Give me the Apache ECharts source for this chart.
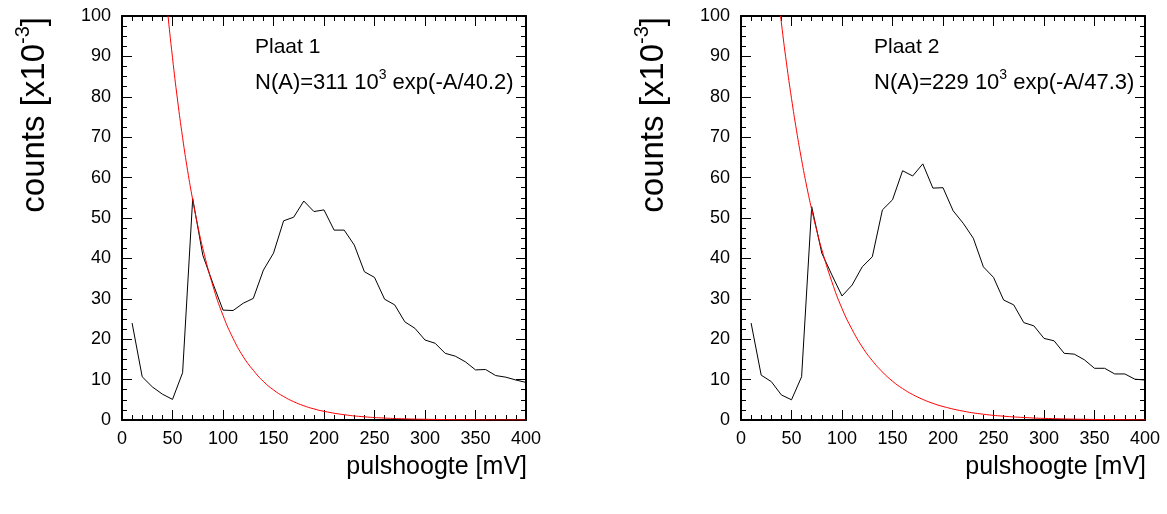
<!DOCTYPE html>
<html>
<head>
<meta charset="utf-8">
<script src="https://cdn.jsdelivr.net/npm/echarts@6/dist/echarts.min.js"></script>
<style>
html,body{margin:0;padding:0;background:#fff;}
#c{width:1167px;height:514px;}
</style>
</head>
<body>
<div id="c"></div>
<script>
// ---- data ----
const xTicks = [0, 50, 100, 150, 200, 250, 300, 350, 400];
const yTicks = [0, 10, 20, 30, 40, 50, 60, 70, 80, 90, 100];

const binX = [10,20,30,40,50,60,70,80,90,100,110,120,130,140,150,160,170,180,190,200,
              210,220,230,240,250,260,270,280,290,300,310,320,330,340,350,360,370,380,390,400];

const plaat1Counts = [24,10.7,8.2,6.4,5.1,11.7,54.8,40.8,33.8,27.2,27.1,28.9,30.1,37.1,41.3,49.3,50.2,54.2,51.6,52.0,
                      47.0,47.0,43.3,36.7,35.3,29.9,28.5,24.3,22.7,19.8,19.0,16.5,15.8,14.4,12.4,12.5,11.0,10.6,9.9,9.3];
const plaat2Counts = [24,11.1,9.5,6.2,5.0,10.7,52.8,41.3,35.9,30.7,33.4,37.9,40.4,52.0,54.5,61.7,60.4,63.4,57.4,57.5,
                      51.8,48.7,45.0,37.9,35.3,29.7,28.5,24.1,23.3,20.2,19.6,16.5,16.3,14.9,12.8,12.8,11.4,11.4,10.1,9.9];

const fit1X = [40,45,50,55,60,65,70,75,80,90,100,110,120,130,140,150,160,170,180,190,200,220,240,260,280,300,350,400];
const fit1Y = [115.0,101.5,89.7,79.2,69.9,61.7,54.5,48.1,42.5,33.2,25.9,20.2,15.7,12.3,9.55,7.45,5.81,4.53,3.53,2.75,2.15,1.31,0.79,0.48,0.29,0.18,0.05,0.02];
const fit2X = [30,35,40,45,50,55,60,65,70,75,80,90,100,110,120,130,140,150,160,170,180,190,200,220,240,260,280,300,350,400];
const fit2Y = [121.5,109.3,98.3,88.4,79.6,71.6,64.4,57.9,52.1,46.9,42.2,34.2,27.6,22.4,18.1,14.7,11.9,9.6,7.78,6.30,5.10,4.12,3.34,2.19,1.43,0.94,0.62,0.40,0.14,0.05];

const titles = ['Plaat 1', 'Plaat 2'];
const fitLabels = [
  ['N(A)=311 10', '3', ' exp(-A/40.2)'],
  ['N(A)=229 10', '3', ' exp(-A/47.3)']
];
const xName = 'pulshoogte [mV]';
const yName = ['counts [x10', '-3', ']'];

// ---- chart ----
const FONT = '"Liberation Sans", Arial, Helvetica, sans-serif';
const pairs = (xs, ys) => xs.map((x, i) => [x, ys[i]]);

const grids = [
  {left: 122, top: 16, width: 404, height: 404},
  {left: 741, top: 16, width: 404, height: 404}
];

function xAxisDef(gi, pos, showLabel) {
  return {
    type: 'value', gridIndex: gi, position: pos,
    min: xTicks[0], max: xTicks[xTicks.length - 1], interval: xTicks[1] - xTicks[0],
    axisLine: {show: true, onZero: false, lineStyle: {color: '#000', width: 2}},
    axisTick: {show: true, inside: true, length: 10, lineStyle: {color: '#000', width: 1}},
    minorTick: {show: true, splitNumber: 5, length: 5, lineStyle: {color: '#000', width: 1}},
    axisLabel: {show: showLabel, color: '#000', fontSize: 18, fontFamily: FONT, margin: 10},
    splitLine: {show: false}
  };
}
function yAxisDef(gi, pos, showLabel) {
  return {
    type: 'value', gridIndex: gi, position: pos,
    min: yTicks[0], max: yTicks[yTicks.length - 1], interval: yTicks[1] - yTicks[0],
    axisLine: {show: true, onZero: false, lineStyle: {color: '#000', width: 2}},
    axisTick: {show: true, inside: true, length: 10, lineStyle: {color: '#000', width: 1}},
    minorTick: {show: true, splitNumber: 4, length: 5, lineStyle: {color: '#000', width: 1}},
    axisLabel: {show: showLabel, color: '#000', fontSize: 18, fontFamily: FONT, margin: 11},
    splitLine: {show: false}
  };
}

const xAxes = [], yAxes = [];
for (let g = 0; g < 2; g++) {
  xAxes.push(xAxisDef(g, 'bottom', true));
  xAxes.push(xAxisDef(g, 'top', false));
  yAxes.push(yAxisDef(g, 'left', true));
  yAxes.push(yAxisDef(g, 'right', false));
}

const counts = [plaat1Counts, plaat2Counts];
const fits = [[fit1X, fit1Y], [fit2X, fit2Y]];
const series = [];
for (let g = 0; g < 2; g++) {
  series.push({
    type: 'line', xAxisIndex: g * 2, yAxisIndex: g * 2,
    data: pairs(binX, counts[g]), symbol: 'none', clip: true,
    lineStyle: {color: '#000', width: 1}, z: 3, animation: false
  });
  series.push({
    type: 'line', xAxisIndex: g * 2, yAxisIndex: g * 2,
    data: pairs(fits[g][0], fits[g][1]), symbol: 'none', clip: true, smooth: true,
    lineStyle: {color: '#ff0000', width: 1}, z: 4, animation: false
  });
}

const graphic = [];
for (let g = 0; g < 2; g++) {
  const gr = grids[g];
  // annotation
  graphic.push({
    type: 'text', left: gr.left + 133, top: 37,
    style: {text: titles[g], fill: '#000', font: '21px ' + FONT}
  });
  graphic.push({
    type: 'text', left: gr.left + 133, top: 68,
    style: {
      text: '{a|' + fitLabels[g][0] + '}{s|' + fitLabels[g][1] + '}{a|' + fitLabels[g][2] + '}',
      rich: {
        a: {fontSize: 22, fontFamily: FONT, fill: '#000', verticalAlign: 'bottom', lineHeight: 26},
        s: {fontSize: 14, fontFamily: FONT, fill: '#000', verticalAlign: 'top', lineHeight: 26, padding: [0, 0, 6, 0]}
      }
    }
  });
  // x axis name (right aligned to axis end)
  graphic.push({
    type: 'text', x: gr.left + gr.width + 1, y: 467,
    style: {text: xName, fill: '#000', font: '25px ' + FONT, align: 'right', verticalAlign: 'middle'}
  });
  // y axis name (rotated, ending at top of axis)
  graphic.push({
    type: 'text', x: gr.left - 90, y: 17, rotation: Math.PI / 2,
    style: {
      text: '{a|' + yName[0] + '}{s|' + yName[1] + '}{a|' + yName[2] + '}',
      align: 'right', verticalAlign: 'middle',
      rich: {
        a: {fontSize: 33, fontFamily: FONT, fill: '#000', verticalAlign: 'bottom', lineHeight: 38},
        s: {fontSize: 20, fontFamily: FONT, fill: '#000', verticalAlign: 'top', lineHeight: 38, padding: [0, 0, 9, 0]}
      }
    }
  });
}

const chart = echarts.init(document.getElementById('c'), null, {renderer: 'canvas'});
chart.setOption({
  animation: false,
  backgroundColor: '#fff',
  grid: grids.map(g => Object.assign({containLabel: false}, g)),
  xAxis: xAxes,
  yAxis: yAxes,
  series: series,
  graphic: graphic
});
</script>
</body>
</html>
